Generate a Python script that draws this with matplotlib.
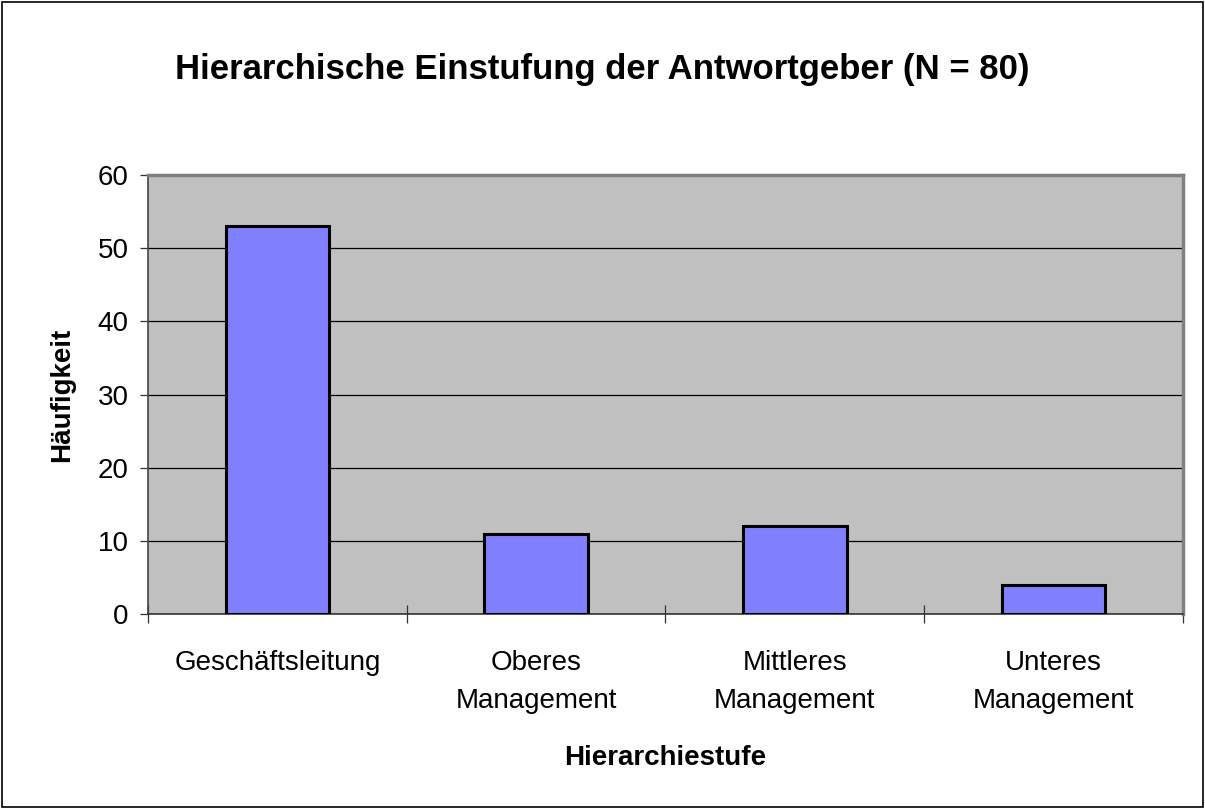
import numpy as np
import matplotlib.pyplot as plt
from matplotlib.patches import Rectangle

categories = ["Geschäftsleitung", "Oberes\nManagement", "Mittleres\nManagement", "Unteres\nManagement"]
counts = [53, 11, 12, 4]
yticks = [0, 10, 20, 30, 40, 50, 60]

plt.rcParams['font.family'] = ['Liberation Sans', 'DejaVu Sans']

fig = plt.figure(figsize=(12.05, 8.09), dpi=100)
fig.patches.append(Rectangle((0.0015, 0.002), 0.997, 0.996, transform=fig.transFigure,
                             fill=False, edgecolor='black', linewidth=1.2))

ax = fig.add_axes([0.1228, 0.241, 0.8589, 0.5427])
ax.set_facecolor('#C0C0C0')

x = np.arange(len(categories))
ax.bar(x, counts, width=0.4, color='#8080FF', edgecolor='black', linewidth=2.2, zorder=3)

ax.set_xlim(-0.5, len(categories) - 0.5)
ax.set_ylim(0, 60)
ax.set_yticks(yticks)
ax.set_yticklabels([str(v) for v in yticks], fontsize=20)
ax.yaxis.grid(True, color='black', linewidth=0.9, zorder=1)
ax.set_axisbelow(True)

# category labels between boundary ticks
ax.set_xticks(np.arange(-0.5, len(categories), 1.0))
ax.set_xticklabels([])
ax.set_xticks(x, minor=True)
ax.set_xticklabels(categories, minor=True, fontsize=20, linespacing=1.6)
ax.tick_params(axis='x', which='minor', length=0, pad=26)
ax.tick_params(axis='x', which='major', direction='inout', length=13, width=0.9, color='#333333')
ax.tick_params(axis='y', length=6, width=0.9, color='#333333', pad=8)

for side in ['top', 'right']:
    ax.spines[side].set_color('#808080')
    ax.spines[side].set_linewidth(2.5)
ax.spines['left'].set_color('#444444')
ax.spines['left'].set_linewidth(1.2)
ax.spines['bottom'].set_color('#333333')
ax.spines['bottom'].set_linewidth(1.2)

ax.set_xlabel("Hierarchiestufe", fontsize=20, fontweight='bold', labelpad=22)
ax.set_ylabel("Häufigkeit", fontsize=20, fontweight='bold', labelpad=16)
fig.suptitle("Hierarchische Einstufung der Antwortgeber (N = 80)", fontsize=25,
             fontweight='bold', x=0.5, y=0.935)

fig.savefig("out.png", dpi=100)
